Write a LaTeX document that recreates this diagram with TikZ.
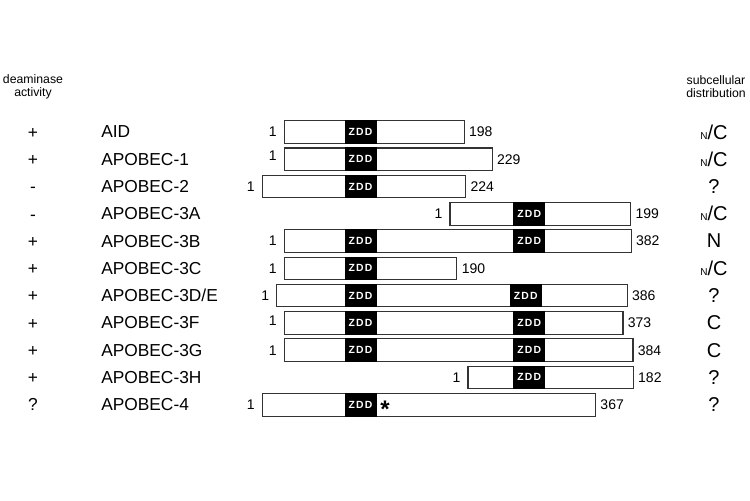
\documentclass[tikz,border=0pt]{standalone}
\usepackage{fontspec}
\setmainfont{Liberation Sans}
\newfontfamily\zddfont[LetterSpace=12]{Liberation Sans Bold}
\usetikzlibrary{positioning}
\tikzset{
	bar/.style  ={rectangle, draw=black!80, line width=0.8pt, fill=white, inner sep=0pt, outer sep=0pt, minimum height=17pt, minimum width=#1*0.681pt, anchor=west},
	zdd/.style  ={rectangle, fill=black, inner sep=0pt, minimum width=24pt, minimum height=17.8pt, text=white, font=\zddfont\fontsize{7.8}{8}\selectfont},
	pname/.style={anchor=west, inner sep=0pt, font=\fontsize{13}{15}\selectfont},
	sgn/.style  ={inner sep=0pt, text height=9.3pt, text depth=0pt, font=\fontsize{13}{15}\selectfont},
	num/.style  ={inner sep=1pt, font=\fontsize{10.5}{12}\selectfont},
	loc/.style  ={inner sep=0pt, font=\fontsize{15}{17}\selectfont},
	colhead/.style={align=center, inner sep=0pt, font=\fontsize{9.2}{9.6}\selectfont},
}
\newcommand{\NoverC}{{\fontsize{7.5}{9}\selectfont N}/C}

\begin{document}
\begin{tikzpicture}[x=0.75pt, y=-0.75pt, node distance=4.5pt]
	\fill[white] (0,0) rectangle (750,500);
	\useasboundingbox (0,0) rectangle (750,500);
	% column heads
	\node[colhead] (hAct) at (33,87) {deaminase\\activity};
	\node[colhead] (hLoc) at (716,87) {subcellular\\distribution};
	% AID
	\node[sgn] (sAID) at (33,132) {+};
	\node[pname] (nAID) at (101,132) {AID};
	\node[bar=198] (bAID) at (284.3,132) {};
	\node[zdd] (zAID) at (360.5,132) {ZDD};
	\node[num, left=of bAID] (fAID) {1};
	\node[num, right=2.5pt of bAID] (lAID) {198};
	\node[loc] (cAID) at (714,132) {\NoverC};
	% APOBEC-1
	\node[sgn] (sA1) at (33,159.3) {+};
	\node[pname] (nA1) at (101,159.3) {APOBEC-1};
	\node[bar=229] (bA1) at (284.3,159.3) {};
	\node[zdd] (zA1) at (360.5,159.3) {ZDD};
	\node[num, left=of bA1, yshift=3pt] (fA1) {1};
	\node[num, right=2.5pt of bA1] (lA1) {229};
	\node[loc] (cA1) at (714,159.3) {\NoverC};
	% APOBEC-2
	\node[sgn] (sA2) at (33,186.5) {-};
	\node[pname] (nA2) at (101,186.5) {APOBEC-2};
	\node[bar=224] (bA2) at (262.3,186.5) {};
	\node[zdd] (zA2) at (360.5,186.5) {ZDD};
	\node[num, left=of bA2] (fA2) {1};
	\node[num, right=2.5pt of bA2] (lA2) {224};
	\node[loc] (cA2) at (714,186.5) {?};
	% APOBEC-3A
	\node[sgn] (sA3A) at (33,213.8) {-};
	\node[pname] (nA3A) at (101,213.8) {APOBEC-3A};
	\node[bar=199] (bA3A) at (450,213.8) {};
	\node[zdd] (zA3A) at (529.3,213.8) {ZDD};
	\node[num, left=of bA3A] (fA3A) {1};
	\node[num, right=2.5pt of bA3A] (lA3A) {199};
	\node[loc] (cA3A) at (714,213.8) {\NoverC};
	% APOBEC-3B
	\node[sgn] (sA3B) at (33,241.1) {+};
	\node[pname] (nA3B) at (101,241.1) {APOBEC-3B};
	\node[bar=382] (bA3B) at (284.3,241.1) {};
	\node[zdd] (zA3Ba) at (360.5,241.1) {ZDD};
	\node[zdd] (zA3Bb) at (529.3,241.1) {ZDD};
	\node[num, left=of bA3B] (fA3B) {1};
	\node[num, right=2.5pt of bA3B] (lA3B) {382};
	\node[loc] (cA3B) at (714,241.1) {N};
	% APOBEC-3C
	\node[sgn] (sA3C) at (33,268.4) {+};
	\node[pname] (nA3C) at (101,268.4) {APOBEC-3C};
	\node[bar=190] (bA3C) at (284.3,268.4) {};
	\node[zdd] (zA3C) at (360.5,268.4) {ZDD};
	\node[num, left=of bA3C] (fA3C) {1};
	\node[num, right=2.5pt of bA3C] (lA3C) {190};
	\node[loc] (cA3C) at (714,268.4) {\NoverC};
	% APOBEC-3D/E
	\node[sgn] (sA3D) at (33,295.6) {+};
	\node[pname] (nA3D) at (101,295.6) {APOBEC-3D/E};
	\node[bar=386] (bA3D) at (276.7,295.6) {};
	\node[zdd] (zA3Da) at (360.5,295.6) {ZDD};
	\node[zdd] (zA3Db) at (525.7,295.6) {ZDD};
	\node[num, left=of bA3D] (fA3D) {1};
	\node[num, right=2.5pt of bA3D] (lA3D) {386};
	\node[loc] (cA3D) at (714,295.6) {?};
	% APOBEC-3F
	\node[sgn] (sA3F) at (33,322.9) {+};
	\node[pname] (nA3F) at (101,322.9) {APOBEC-3F};
	\node[bar=373] (bA3F) at (284.3,322.9) {};
	\node[zdd] (zA3Fa) at (360.5,322.9) {ZDD};
	\node[zdd] (zA3Fb) at (529.3,322.9) {ZDD};
	\node[num, left=of bA3F, yshift=2pt] (fA3F) {1};
	\node[num, right=2.5pt of bA3F] (lA3F) {373};
	\node[loc] (cA3F) at (714,322.9) {C};
	% APOBEC-3G
	\node[sgn] (sA3G) at (33,350.2) {+};
	\node[pname] (nA3G) at (101,350.2) {APOBEC-3G};
	\node[bar=384] (bA3G) at (284.3,350.2) {};
	\node[zdd] (zA3Ga) at (360.5,350.2) {ZDD};
	\node[zdd] (zA3Gb) at (529.3,350.2) {ZDD};
	\node[num, left=of bA3G] (fA3G) {1};
	\node[num, right=2.5pt of bA3G] (lA3G) {384};
	\node[loc] (cA3G) at (714,350.2) {C};
	% APOBEC-3H
	\node[sgn] (sA3H) at (33,377.4) {+};
	\node[pname] (nA3H) at (101,377.4) {APOBEC-3H};
	\node[bar=182] (bA3H) at (468,377.4) {};
	\node[zdd] (zA3H) at (529.3,377.4) {ZDD};
	\node[num, left=of bA3H] (fA3H) {1};
	\node[num, right=2.5pt of bA3H] (lA3H) {182};
	\node[loc] (cA3H) at (714,377.4) {?};
	% APOBEC-4
	\node[sgn] (sA4) at (33,404.7) {?};
	\node[pname] (nA4) at (101,404.7) {APOBEC-4};
	\node[bar=367] (bA4) at (262.3,404.7) {};
	\node[zdd] (zA4) at (360.5,404.7) {ZDD};
	\node[anchor=north, inner sep=0pt, font=\bfseries\fontsize{18}{18}\selectfont] (star) at (385,401) {*};
	\node[num, left=of bA4] (fA4) {1};
	\node[num, right=2.5pt of bA4] (lA4) {367};
	\node[loc] (cA4) at (714,404.7) {?};
\end{tikzpicture}
\end{document}
